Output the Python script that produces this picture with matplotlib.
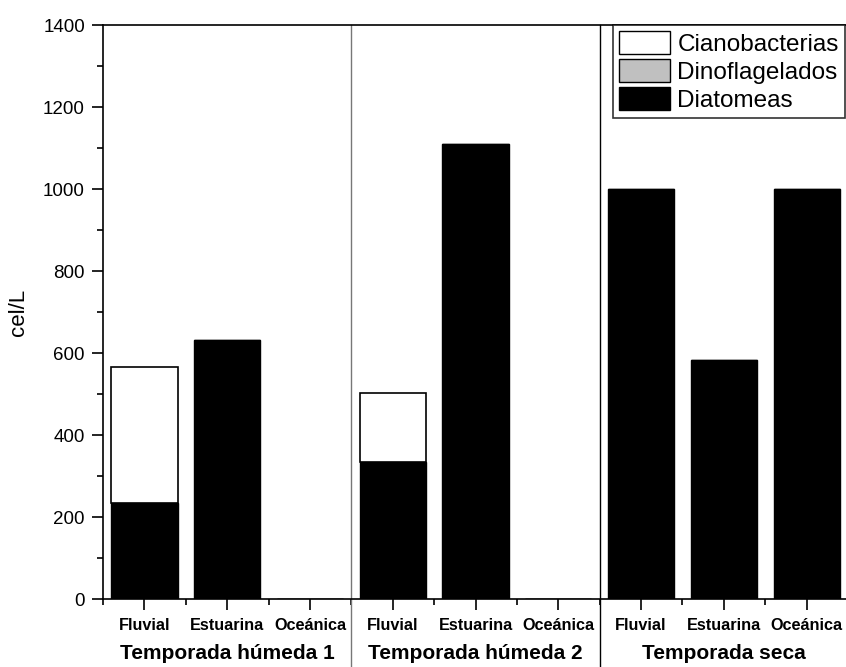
import matplotlib
matplotlib.use('Agg')
import matplotlib.pyplot as plt
from matplotlib.patches import Patch
from matplotlib.ticker import MultipleLocator, FixedLocator
import numpy as np

plt.rcParams['font.family'] = ['Liberation Sans', 'DejaVu Sans']

# data (cel/L)
sitios = ['Fluvial', 'Estuarina', 'Oceánica'] * 3
temporadas = ['Temporada húmeda 1', 'Temporada húmeda 2', 'Temporada seca']
diatomeas = [233, 632, 0, 334, 1110, 0, 1000, 583, 1000]
dinoflagelados = [0, 0, 0, 0, 0, 0, 0, 0, 0]
cianobacterias = [333, 0, 0, 168, 0, 0, 0, 0, 0]

fig = plt.figure(figsize=(8.46, 6.67), dpi=100)
ax = fig.add_axes([103 / 846, 68 / 667, 745 / 846, 574 / 667])

x = np.arange(len(sitios))
dia = np.array(diatomeas)
din = np.array(dinoflagelados)
cia = np.array(cianobacterias)
w = 0.8

ax.bar(x, dia, w, color='black', edgecolor='black', lw=1)
ax.bar(x, din, w, bottom=dia, color='#c0c0c0', edgecolor='black', lw=1)
mask = cia > 0
ax.bar(x[mask], cia[mask], w, bottom=(dia + din)[mask], color='white', edgecolor='black', lw=1.2)

ax.set_xlim(-0.5, 8.5)
ax.set_ylim(0, 1400)

# separators between seasons
ax.axvline(2.5, ymin=-0.12, ymax=1, color='#777777', lw=1, clip_on=False)
ax.axvline(5.5, ymin=-0.12, ymax=1, color='black', lw=1, clip_on=False)

ax.spines['right'].set_visible(False)
for s in ['left', 'bottom', 'top']:
    ax.spines[s].set_linewidth(1.2)

ax.yaxis.set_major_locator(MultipleLocator(200))
ax.yaxis.set_minor_locator(MultipleLocator(100))
ax.xaxis.set_major_locator(FixedLocator(x))
ax.xaxis.set_minor_locator(FixedLocator(np.arange(-0.5, 9, 1)))
ax.tick_params(axis='both', which='major', direction='out', length=8, width=1.2,
               labelsize=13.5, pad=5)
ax.tick_params(axis='both', which='minor', direction='out', length=4, width=1.2)
ax.set_xticklabels(sitios, fontsize=11.7, fontweight='bold')
ax.tick_params(axis='x', which='major', pad=6)

ax.set_ylabel('cel/L', fontsize=16, labelpad=10)

for i, t in enumerate(temporadas):
    ax.text(3 * i + 1, -0.095, t, transform=ax.get_xaxis_transform(),
            ha='center', va='center', fontsize=15, fontweight='bold')

handles = [Patch(facecolor='white', edgecolor='black', label='Cianobacterias'),
           Patch(facecolor='#c0c0c0', edgecolor='black', label='Dinoflagelados'),
           Patch(facecolor='black', edgecolor='black', label='Diatomeas')]
leg = ax.legend(handles=handles, loc='upper left', bbox_to_anchor=(613 / 846, 642 / 667),
                bbox_transform=fig.transFigure, fontsize=17.5, frameon=True, fancybox=False,
                edgecolor='black', borderpad=0.25, handlelength=2.1, handleheight=1.1,
                handletextpad=0.3, labelspacing=0.12, borderaxespad=0)
leg.get_frame().set_linewidth(1.2)

fig.savefig('out.png', dpi=100)
